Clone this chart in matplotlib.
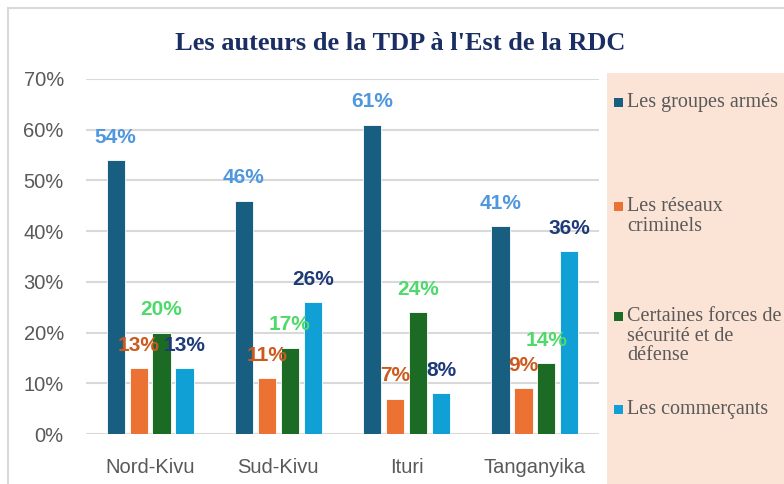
import matplotlib
matplotlib.use("Agg")
import matplotlib.pyplot as plt
import numpy as np
from matplotlib.patches import Rectangle
from matplotlib.lines import Line2D

categories = ["Nord-Kivu", "Sud-Kivu", "Ituri", "Tanganyika"]
series_names = ["Les groupes armés", "Les réseaux\ncriminels",
                "Certaines forces de\nsécurité et de\ndéfense", "Les commerçants"]
groupes_armes = [54, 46, 61, 41]
reseaux_criminels = [13, 11, 7, 9]
forces_securite = [20, 17, 24, 14]
commercants = [13, 26, 8, 36]
yticks = [0, 10, 20, 30, 40, 50, 60, 70]
title = "Les auteurs de la TDP à l'Est de la RDC"

series = [groupes_armes, reseaux_criminels, forces_securite, commercants]
bar_colors = ["#175E80", "#EC7234", "#1C6B24", "#10A0D6"]
label_colors = ["#4F97DE", "#CC5A1E", "#4FD96A", "#1F3A78"]

fig = plt.figure(figsize=(7.84, 4.84), dpi=100)
W, H = 784, 484

# outer border
fig.add_artist(Line2D([8 / W, 1], [1 - 8 / H, 1 - 8 / H], color="#D9D9D9", lw=1.5, transform=fig.transFigure))
fig.add_artist(Line2D([8 / W, 8 / W], [0, 1 - 8 / H], color="#D9D9D9", lw=1.5, transform=fig.transFigure))

# legend background
fig.add_artist(Rectangle((607 / W, 0), (W - 607) / W, (H - 73) / H, transform=fig.transFigure,
                         facecolor="#FBE3D6", edgecolor="none", zorder=0))

ax = fig.add_axes([86 / W, 1 - 434 / H, (599 - 86) / W, (434 - 79) / H])
x = np.arange(len(categories))
bw = 0.142
step = 0.179
for i, (vals, c, lc) in enumerate(zip(series, bar_colors, label_colors)):
    pos = x + (i - 1.5) * step
    ax.bar(pos, vals, width=bw, color=c, edgecolor="white", linewidth=0.6, zorder=3)
    for p, v in zip(pos, vals):
        ax.annotate(f"{v}%", (p, v), xytext=(0, 23), textcoords="offset pixels",
                    ha="center", va="center", fontsize=15, fontweight="bold",
                    color=lc, family="Liberation Sans", zorder=5)

ax.set_xlim(-0.5, len(categories) - 0.5)
ax.set_ylim(0, 70)
ax.set_yticks(yticks)
ax.set_yticklabels([f"{t}%" for t in yticks])
ax.set_xticks(x)
ax.set_xticklabels(categories)
ax.grid(axis="y", color="#D9D9D9", linewidth=1.5, zorder=0)
ax.set_axisbelow(True)
for s in ax.spines.values():
    s.set_visible(False)
ax.tick_params(axis="both", length=0, labelsize=14.5, labelcolor="#595959", pad=16)
for lbl in ax.get_xticklabels() + ax.get_yticklabels():
    lbl.set_family("Liberation Sans")
ax.tick_params(axis="x", pad=17)

fig.text(0.511, 1 - 43 / H, title, ha="center", va="center", fontsize=19,
         fontweight="bold", color="#1A2E63", family="Liberation Serif")

# legend (manual)
leg_y = [103, 207, 317, 410]
for name, c, yy in zip(series_names, bar_colors, leg_y):
    fig.add_artist(Rectangle((614 / W, 1 - (yy + 4) / H), 9 / W, 9 / H, transform=fig.transFigure,
                             facecolor=c, edgecolor="none", zorder=2))
    fig.text(627 / W, 1 - (yy - 10) / H, name, ha="left", va="top", fontsize=14.5,
             color="#595959", family="Liberation Serif", linespacing=1.05)

fig.savefig("out.png", dpi=100)
